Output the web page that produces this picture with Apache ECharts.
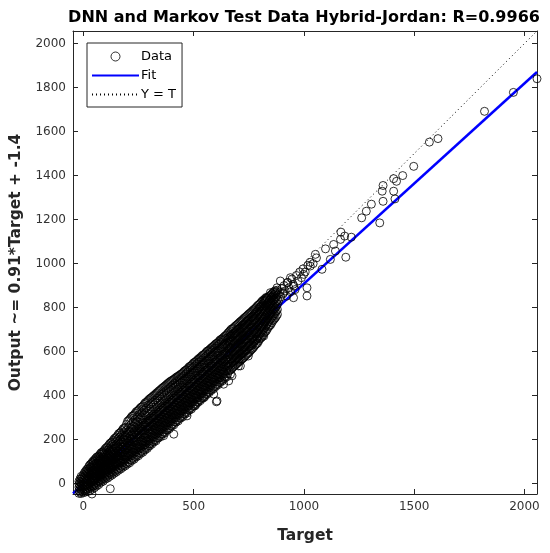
<!DOCTYPE html>
<html>
<head>
<meta charset="utf-8">
<script src="https://cdn.jsdelivr.net/npm/echarts@6/dist/echarts.min.js"></script>
<style>html,body{margin:0;padding:0;background:#fff}#c{width:550px;height:553px}</style>
</head>
<body>
<div id="c"></div>
<script>
// ---- data ----
const titleText = 'DNN and Markov Test Data Hybrid-Jordan: R=0.9966';
const xName = 'Target';
const yName = 'Output ~= 0.91*Target + -1.4';
const axisMin = -47;
const axisMax = 2057;
const xTicks = [0, 500, 1000, 1500, 2000];
const yTicks = [0, 200, 400, 600, 800, 1000, 1200, 1400, 1600, 1800, 2000];
const fitSlope = 0.91;
const fitIntercept = -1.4;

// dense cloud, read column by column: target value, then the outputs seen at that target
const lowTargets = [-20,-10,0,10,20,30,40,50,60,70,80,90,100,110,120,130,140,150,160,170,180,190,200,210,220,230,240,250,260,270,280,290,300];
const lowOutputs = [
[-44,-31,-16,-2,11],[-45,-27,-13,4,21,33],[-41,-26,-9,7,23,41],[-38,-21,-4,13,27,44,57],[-36,-14,3,17,34,51,68],
[-31,-11,7,23,39,56,74,86],[-25,-6,16,29,46,61,81,97],[-19,1,19,37,51,69,87,108],[-11,9,27,45,59,79,95,120],[-4,14,36,49,69,84,106,126],
[6,21,43,59,77,94,116,140],[11,31,49,69,84,105,123,146],[21,37,59,75,95,111,133,160],[25,47,65,85,101,121,141,168],[33,51,75,91,111,129,153,182],
[39,61,81,101,119,141,161,190],[47,67,91,109,129,147,173,204],[53,77,97,119,137,159,181,212],[61,83,107,125,147,167,193,227],[67,93,113,137,155,179,201,234],
[75,97,123,143,166,187,213,249],[81,107,129,153,173,197,221,256],[89,113,139,161,185,205,233,283],[95,123,145,171,191,216,241,292],[105,129,155,177,203,223,253,306],
[111,139,161,189,209,235,261,313],[121,145,173,195,221,243,273,327],[127,155,179,205,227,253,281,334],[137,161,189,213,239,261,293,346],[143,171,195,223,245,273,299,353],
[153,177,207,229,257,279,311,367],[160,189,213,241,263,291,319,374],[171,195,225,247,275,297,331,385]
];
const lowTargets2 = [-15,-5,5,15,25,35,45,55,65,75,85,95,105,115,125,135,145,155,165,175,185,195,205,215,225,235,245,255,265,275,285,295];
const lowOutputs2 = [
[-38,-22,-8,8,22],[-36,-20,-3,13,28],[-30,-13,3,18,35,50],[-27,-10,8,22,38,55,64],[-22,-4,14,30,47,64,79],
[-17,4,22,38,53,71,90],[-11,10,27,43,58,75,94,103],[-6,17,34,49,67,84,104,114],[3,23,41,56,73,92,113,123],[10,30,48,64,81,102,121,133],
[16,38,56,72,91,111,133,143],[25,45,63,80,99,118,140,153],[31,52,70,89,108,128,151,164],[39,60,78,96,116,137,160,175],[45,68,86,106,124,147,171,186],
[52,76,93,114,134,157,181,197],[58,82,101,120,139,164,192,208],[66,90,110,128,149,174,202,219],[72,96,118,138,158,182,212,230],[80,103,126,146,168,192,222,241],
[87,112,133,156,178,202,232,252],[93,120,140,165,186,214,243,269],[100,128,150,173,197,226,256,287],[108,136,158,182,207,236,268,299],[116,144,166,192,219,247,280,309],
[124,152,174,200,229,257,292,320],[132,160,182,211,239,266,303,330],[140,168,192,219,249,278,313,340],[148,176,200,229,257,288,323,349],[156,184,210,238,267,297,335,360],
[165,193,220,247,276,307,344,370],[173,201,229,256,285,316,355,380]
];
const midTargets = [310,320,330,340,350,360,370,380,390,400,410,420,430,440,450,460,470,480,490,500,510,520,530,540,550,560,570,580,590,600,610,620,630,640,650];
const midOutputs = [
[179,205,231,259,281,307,337,392],[189,213,241,265,291,315,347,401],[195,223,249,275,299,327,355,410],[207,231,259,283,309,333,365,419],[213,241,267,293,317,345,373,427],
[225,249,277,301,327,351,383,436],[231,259,285,311,335,363,391,444],[243,267,295,319,345,369,401,453],[249,277,303,329,353,381,409,461],[261,285,313,337,363,387,419,468],
[267,295,321,347,371,399,427,474],[279,303,331,355,381,405,437,482],[285,313,339,365,389,417,445,488],[297,321,349,373,399,423,455,496],[303,331,357,383,407,435,463,503],
[315,339,367,391,417,441,473,513],[321,349,375,401,425,453,481,519],[333,357,385,409,435,459,491,531],[339,367,393,419,443,471,499,537],[351,375,403,427,453,477,509,549],
[359,387,411,437,461,489,515,555],[369,393,421,445,471,495,527,565],[377,405,429,455,479,507,533,573],[387,411,439,463,489,513,545,583],[395,423,447,473,497,525,551,589],
[405,429,457,481,507,531,563,601],[413,441,465,491,515,543,569,607],[423,447,475,499,525,549,581,617],[431,459,483,509,533,561,587,625],[441,465,493,517,543,567,599,635],
[449,477,501,527,551,579,605,641],[459,483,511,535,561,585,617,653],[467,495,519,545,569,597,623,659],[477,501,529,553,579,603,635,669],[485,513,537,563,587,615,641,677]
];
const midTargets2 = [305,315,325,335,345,355,365,375,385,395,405,415,425,435,445,455,465,475,485,495,505,515,525,535,545,555,565,575,585,595,605,615,625,635,645];
const midOutputs2 = [
[183,210,236,262,291,323,362,389],[192,218,244,271,299,331,370,397],[200,227,253,280,308,340,379,405],[208,236,262,289,317,349,388,414],[217,245,271,298,326,358,397,423],
[226,254,280,306,335,367,406,432],[235,263,289,315,344,377,414,440],[244,272,298,324,352,386,423,448],[253,281,307,333,361,395,431,457],[262,290,316,342,370,404,440,465],
[271,299,325,351,380,412,448,471],[280,308,334,360,389,421,456,478],[289,317,343,369,398,430,464,486],[298,326,352,378,407,439,473,492],[307,335,361,387,416,448,481,499],
[316,344,370,396,425,457,490,508],[325,353,379,405,434,467,499,516],[334,362,388,414,443,476,508,525],[343,371,397,423,452,485,517,534],[352,380,406,432,461,494,527,543],
[362,389,415,441,470,503,535,552],[371,398,424,450,479,512,544,560],[380,407,433,459,488,521,553,569],[389,416,442,468,497,530,562,578],[398,425,451,477,506,539,570,586],
[407,434,460,486,515,548,578,595],[416,443,469,495,524,557,588,604],[425,452,478,504,533,566,597,612],[434,461,487,513,542,575,605,621],[443,470,496,522,551,584,615,630],
[452,479,505,531,560,593,624,638],[461,488,514,540,569,602,633,647],[470,497,523,549,578,611,642,656],[479,506,532,558,587,620,651,664],[488,515,541,567,596,629,660,673]
];
const highTargets = [660,670,680,690,700,710,720,730,740,750,760,770,780,790,800,810,820,830,840,850,860,870,880];
const highOutputs = [
[513,535,563,587,613,635,663,689],[519,547,571,597,619,647,671,701],[531,555,581,605,631,653,681,707],[539,565,589,615,639,665,689,717],[549,573,601,623,649,673,701,725],
[557,583,607,633,657,683,707,735],[567,591,619,641,667,691,719,743],[575,601,625,651,675,701,725,753],[587,609,637,659,685,709,737,761],[595,621,645,671,693,721,745,771],
[607,629,657,679,705,727,755,779],[617,641,665,691,713,739,763,789],[631,653,681,703,729,751,777,797],[639,665,689,715,737,763,785,809],[657,679,705,727,753,775,801,817],
[667,693,715,741,763,789,809,829],[685,707,733,755,781,803,827,837],[695,721,743,769,791,815,835,847],[713,735,761,783,807,827,849],[723,749,771,797,817,841,857],
[741,763,789,809,833,853,869],[753,779,799,823,843,867,877],[769,791,815,835,859,879]
];
const highTargets2 = [655,665,675,685,695,705,715,725,735,745,755,765,775,785,795,805,815,825,835,845,855,865,875];
const highOutputs2 = [
[500,526,551,576,601,626,654,684],[516,541,567,591,616,642,668,695],[525,551,576,601,626,650,676,704],[535,560,585,610,635,660,685,712],[544,569,595,619,644,669,695,721],
[553,578,604,628,653,678,704,730],[562,587,613,637,662,687,713,739],[571,596,622,646,671,696,722,748],[581,605,631,655,680,705,731,757],[591,615,641,665,689,715,741,766],
[601,625,651,675,699,724,750,775],[612,635,661,685,709,733,759,784],[624,647,673,697,721,745,770,793],[635,659,685,709,733,757,781,803],[648,672,697,721,745,769,793,813],
[662,686,710,734,758,782,805,823],[676,700,724,748,772,796,818,833],[690,714,738,762,786,809,831,842],[704,728,752,776,799,821,842],[718,742,766,790,812,834,853],
[732,756,780,803,825,847,863],[747,771,794,816,838,860,873],[761,785,807,829,851,872]
];
// thinning tail of the cloud between about 880 and 1050
const pointsTail = [
[885,830],[890,870],[895,848],[900,886],[905,862],[910,900],[915,876],[922,852],[927,915],[932,890],[940,872],[946,930],[951,906],[960,882],[966,946],[973,921],[981,962],[989,936],[996,976],[1006,962],[1018,992],[1028,1006],[1042,1000],[1052,1042]
];
const pointsSparse = [
[2057,1840],[1950,1778],[1819,1692],[1608,1568],[1569,1552],[1498,1442],[1448,1400],[1407,1386],[1420,1374],[1359,1355],[1355,1329],[1407,1329],[1413,1294],[1359,1283],[1306,1270],[1283,1238],[1262,1208],[1344,1185],[1168,1143],[1185,1125],[1215,1120],[1166,1110],[1135,1087],[1098,1067],[1143,1057],[1190,1029],[1057,1026],[1120,1019],[1029,989],[1082,974],[999,951],[939,936],[893,921],[924,913],[954,898],[1014,890],[878,890],[848,868],[908,868],[1014,853],[833,845],[953,845]
];
const pointsOutliers = [
[818,671],[788,656],[712,535],[705,565],[674,490],[659,467],[606,376],[591,407],[546,391],[506,354],[667,679],[667,641],[603,372],[410,225],[364,218],[470,308],[299,180],[703,535],[748,580],[667,497],[636,452],[122,-23],[39,-47],[47,-9]
];

function columnsToPoints(targets, outputs) {
  const pts = [];
  targets.forEach(function (t, i) { outputs[i].forEach(function (o) { pts.push([t, o]); }); });
  return pts;
}
const allPoints = [].concat(
  columnsToPoints(lowTargets, lowOutputs), columnsToPoints(lowTargets2, lowOutputs2),
  columnsToPoints(midTargets, midOutputs), columnsToPoints(midTargets2, midOutputs2),
  columnsToPoints(highTargets, highOutputs), columnsToPoints(highTargets2, highOutputs2),
  pointsTail, pointsSparse, pointsOutliers);
const fitLine = [[axisMin, fitSlope*axisMin + fitIntercept], [axisMax, fitSlope*axisMax + fitIntercept]];
const identityLine = [[axisMin, axisMin], [axisMax, axisMax]];

const axisColor = '#262626';
const FONT = '"DejaVu Sans", sans-serif';

function mkAxis(pos, isX, main) {
  const ticks = isX ? xTicks : yTicks;
  return {
    type: 'value', position: pos, min: axisMin, max: axisMax,
    name: main ? (isX ? xName : yName) : '',
    nameLocation: 'middle',
    nameGap: isX ? 34 : 49,
    nameTextStyle: { fontFamily: FONT, fontSize: 15.5, fontWeight: 'bold', color: '#262626' },
    axisLine: { show: true, onZero: false, lineStyle: { color: axisColor, width: 1 } },
    axisTick: { show: true, inside: true, length: 5, customValues: ticks, lineStyle: { color: axisColor, width: 1 } },
    axisLabel: { show: main, customValues: ticks, formatter: function (v) { return String(v); },
      fontFamily: FONT, fontSize: 12, color: '#333', margin: 7 },
    splitLine: { show: false },
    gridIndex: 0
  };
}

const chart = echarts.init(document.getElementById('c'), null, { renderer: 'canvas' });
chart.setOption({
  animation: false,
  backgroundColor: '#fff',
  title: {
    text: titleText, left: 299, textAlign: 'center', top: 5,
    textStyle: { fontFamily: FONT, fontSize: 16, fontWeight: 'bold', color: '#000' }
  },
  grid: { left: 73, right: 13, top: 31, bottom: 59 },
  xAxis: [mkAxis('bottom', true, true), mkAxis('top', true, false)],
  yAxis: [mkAxis('left', false, true), mkAxis('right', false, false)],
  legend: {
    orient: 'vertical', left: 87, top: 43,
    data: [
      { name: 'Data', itemStyle: { color: 'rgba(0,0,0,0)', borderColor: '#000', borderWidth: 1 } },
      { name: 'Fit', itemStyle: { color: 'rgba(0,0,0,0)', borderWidth: 0 } },
      { name: 'Y = T', itemStyle: { color: 'rgba(0,0,0,0)', borderWidth: 0 } }
    ],
    itemWidth: 47, itemHeight: 9, itemGap: 6,
    padding: [7, 6, 6, 4],
    backgroundColor: '#fff', borderColor: '#262626', borderWidth: 1,
    textStyle: { fontFamily: FONT, fontSize: 13, color: '#000', padding: [0, 0, 0, -3] }
  },
  series: [
    {
      name: 'Y = T', type: 'line', data: identityLine, xAxisIndex: 0, yAxisIndex: 0,
      symbol: 'none', lineStyle: { color: '#000', width: 1, type: [1, 3] }, z: 2
    },
    {
      name: 'Fit', type: 'line', data: fitLine, xAxisIndex: 0, yAxisIndex: 0,
      symbol: 'none', lineStyle: { color: '#0000ff', width: 2.5 }, itemStyle: { color: '#0000ff' }, z: 3
    },
    {
      name: 'Data', type: 'scatter', data: allPoints, xAxisIndex: 0, yAxisIndex: 0,
      symbol: 'circle', symbolSize: 8, large: false,
      itemStyle: { color: 'rgba(0,0,0,0)', borderColor: '#000', borderWidth: 1 }, z: 4
    }
  ]
});
</script>
</body>
</html>
